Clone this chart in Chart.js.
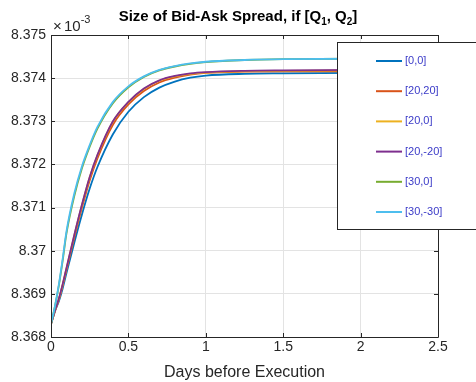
<!DOCTYPE html>
<html lang="en">
<head>
    <meta charset="UTF-8">
    <title>Size of Bid-Ask Spread</title>
    <script src="https://cdn.jsdelivr.net/npm/chart.js@4"></script>
    <style>
        body {
            margin: 0;
            padding: 0;
            background-color: #ffffff;
        }
        #wrap {
            width: 476px;
            height: 382px;
        }
    </style>
</head>
<body>
    <div id="wrap"><canvas id="chart" width="476" height="382"></canvas></div>
    <script>
        // days before execution (x) and spread values (in units of 1e-3)
        const xDays = [0, 0.025, 0.05, 0.075, 0.1, 0.15, 0.2, 0.25, 0.3, 0.4, 0.5, 0.6, 0.7, 0.8, 0.9, 1.0, 1.25, 1.5, 2.0, 2.5];

        const q0_0    = [8.3683, 8.3686, 8.36882, 8.36912, 8.36948, 8.37018, 8.37084, 8.37144, 8.37194, 8.37270, 8.37322, 8.37356, 8.37378, 8.37392, 8.37401, 8.37406, 8.37410, 8.37411, 8.37412, 8.37412];
        const q20_20  = [8.3683, 8.3686, 8.36886, 8.36919, 8.36956, 8.37030, 8.37100, 8.37163, 8.37214, 8.37292, 8.37339, 8.37370, 8.37390, 8.37401, 8.37408, 8.37412, 8.37415, 8.37416, 8.37416, 8.37416];
        const q20_0   = [8.3683, 8.3686, 8.36887, 8.36921, 8.36959, 8.37035, 8.37106, 8.37170, 8.37221, 8.37299, 8.37344, 8.37375, 8.37394, 8.37404, 8.37410, 8.37413, 8.37416, 8.37417, 8.37418, 8.37418];
        const q20_m20 = [8.3683, 8.3686, 8.36888, 8.36922, 8.36960, 8.37036, 8.37107, 8.37171, 8.37222, 8.37300, 8.37345, 8.37376, 8.37395, 8.37405, 8.37411, 8.37414, 8.37417, 8.37418, 8.37419, 8.37419];
        const q30_0   = [8.3683, 8.3687, 8.36918, 8.36976, 8.37040, 8.37126, 8.37191, 8.37241, 8.37283, 8.37342, 8.37379, 8.37403, 8.37418, 8.37427, 8.37433, 8.37437, 8.37442, 8.37444, 8.37445, 8.37445];
        const q30_m30 = [8.3683, 8.3687, 8.3692, 8.3698, 8.37045, 8.37132, 8.37196, 8.37245, 8.37287, 8.37345, 8.37381, 8.37404, 8.37419, 8.37428, 8.37434, 8.37438, 8.37442, 8.37444, 8.37445, 8.37445];

        const seriesLabels = ['[0,0]', '[20,20]', '[20,0]', '[20,-20]', '[30,0]', '[30,-30]'];
        const seriesColors = ['#0072BD', '#D95319', '#EDB120', '#7E2F8E', '#77AC30', '#4DBEEE'];
        const yTickLabels = ['8.368', '8.369', '8.37', '8.371', '8.372', '8.373', '8.374', '8.375'];
        const xTickLabels = ['0', '0.5', '1', '1.5', '2', '2.5'];

        const FONT = '"Liberation Sans", Arial, Helvetica, sans-serif';
        const AXIS = '#262626';

        function toPoints(ys) {
            return ys.map((y, i) => ({ x: xDays[i], y: y }));
        }

        const allSeries = [q0_0, q20_20, q20_0, q20_m20, q30_0, q30_m30];

        // title, x10^-3 multiplier, box frame, inward ticks, legend
        const matlabLook = {
            id: 'matlabLook',
            afterDraw(chart) {
                const ctx = chart.ctx;
                const a = chart.chartArea;
                const xs = chart.scales.x;
                const ys = chart.scales.y;
                ctx.save();

                // frame
                ctx.strokeStyle = AXIS;
                ctx.lineWidth = 1;
                ctx.beginPath();
                ctx.moveTo(a.left + 0.5, a.bottom + 0.5);
                ctx.lineTo(a.left + 0.5, a.top + 0.5);
                ctx.lineTo(a.right + 0.5, a.top + 0.5);
                ctx.lineTo(a.right + 0.5, a.bottom + 0.5);
                ctx.lineTo(a.left + 0.5, a.bottom + 0.5);
                ctx.stroke();

                // inward ticks
                ctx.beginPath();
                xs.ticks.forEach(t => {
                    const px = Math.round(xs.getPixelForValue(t.value)) + 0.5;
                    ctx.moveTo(px, a.bottom); ctx.lineTo(px, a.bottom - 4);
                    ctx.moveTo(px, a.top); ctx.lineTo(px, a.top + 4);
                });
                ys.ticks.forEach(t => {
                    const py = Math.round(ys.getPixelForValue(t.value)) + 0.5;
                    ctx.moveTo(a.left, py); ctx.lineTo(a.left + 4, py);
                    ctx.moveTo(a.right, py); ctx.lineTo(a.right - 4, py);
                });
                ctx.stroke();

                // title with subscripts
                ctx.fillStyle = '#000000';
                ctx.textBaseline = 'alphabetic';
                const parts = [
                    ['Size of Bid-Ask Spread, if [Q', 15, 0],
                    ['1', 10, 4],
                    [', Q', 15, 0],
                    ['2', 10, 4],
                    [']', 15, 0]
                ];
                let total = 0;
                parts.forEach(p => { ctx.font = 'bold ' + p[1] + 'px ' + FONT; total += ctx.measureText(p[0]).width; });
                let tx = chart.width / 2 - total / 2;
                parts.forEach(p => {
                    ctx.font = 'bold ' + p[1] + 'px ' + FONT;
                    ctx.fillText(p[0], tx, 21 + p[2]);
                    tx += ctx.measureText(p[0]).width;
                });

                // exponent label
                ctx.fillStyle = AXIS;
                ctx.font = '15px ' + FONT;
                ctx.fillText('\u00d7', a.left + 2, 31);
                ctx.fillText('10', a.left + 13, 31);
                const w10 = ctx.measureText('10').width;
                ctx.font = '11px ' + FONT;
                ctx.fillText('-3', a.left + 13 + w10, 23);

                // legend box
                const bx = 337, by = 42, bw = 150, bh = 187;
                ctx.fillStyle = '#ffffff';
                ctx.fillRect(bx, by, bw, bh);
                ctx.strokeStyle = AXIS;
                ctx.strokeRect(bx + 0.5, by + 0.5, bw, bh);
                chart.data.datasets.forEach((ds, i) => {
                    const ly = 61 + i * 30.2;
                    ctx.strokeStyle = ds.borderColor;
                    ctx.lineWidth = 2;
                    ctx.beginPath();
                    ctx.moveTo(376, ly);
                    ctx.lineTo(402, ly);
                    ctx.stroke();
                    ctx.fillStyle = '#3b3bc8';
                    ctx.font = '11px ' + FONT;
                    ctx.textBaseline = 'middle';
                    ctx.fillText(ds.label, 405, ly);
                });
                ctx.restore();
            }
        };

        const chart = new Chart(document.getElementById('chart').getContext('2d'), {
            type: 'line',
            data: {
                datasets: allSeries.map((ys, i) => ({
                    label: seriesLabels[i],
                    data: toPoints(ys),
                    borderColor: seriesColors[i],
                    backgroundColor: seriesColors[i],
                    borderWidth: 1.8,
                    pointRadius: 0,
                    fill: false,
                    order: allSeries.length - i, // later series on top, like MATLAB
                    cubicInterpolationMode: 'monotone'
                }))
            },
            options: {
                responsive: false,
                animation: false,
                layout: { padding: { left: 0, right: 38, top: 35, bottom: 0 } },
                plugins: {
                    legend: { display: false },
                    title: { display: false },
                    tooltip: { enabled: false }
                },
                scales: {
                    x: {
                        type: 'linear',
                        min: 0,
                        max: 2.5,
                        ticks: {
                            stepSize: 0.5,
                            color: AXIS,
                            font: { family: FONT, size: 14 },
                            padding: 2,
                            maxRotation: 0,
                            callback: (v, i) => xTickLabels[i]
                        },
                        grid: { color: '#e3e3e3', drawTicks: false },
                        border: { display: false },
                        title: {
                            display: true,
                            text: 'Days before Execution',
                            color: AXIS,
                            font: { family: FONT, size: 16 },
                            padding: { top: 1, bottom: 0 }
                        },
                        afterFit: s => { s.height = 45; }
                    },
                    y: {
                        min: 8.368,
                        max: 8.375,
                        ticks: {
                            stepSize: 0.001,
                            color: AXIS,
                            font: { family: FONT, size: 14 },
                            padding: 5,
                            callback: (v, i) => yTickLabels[i]
                        },
                        grid: { color: '#e3e3e3', drawTicks: false },
                        border: { display: false },
                        afterFit: s => { s.width = 51; }
                    }
                }
            },
            plugins: [matlabLook]
        });
    </script>
</body>
</html>
